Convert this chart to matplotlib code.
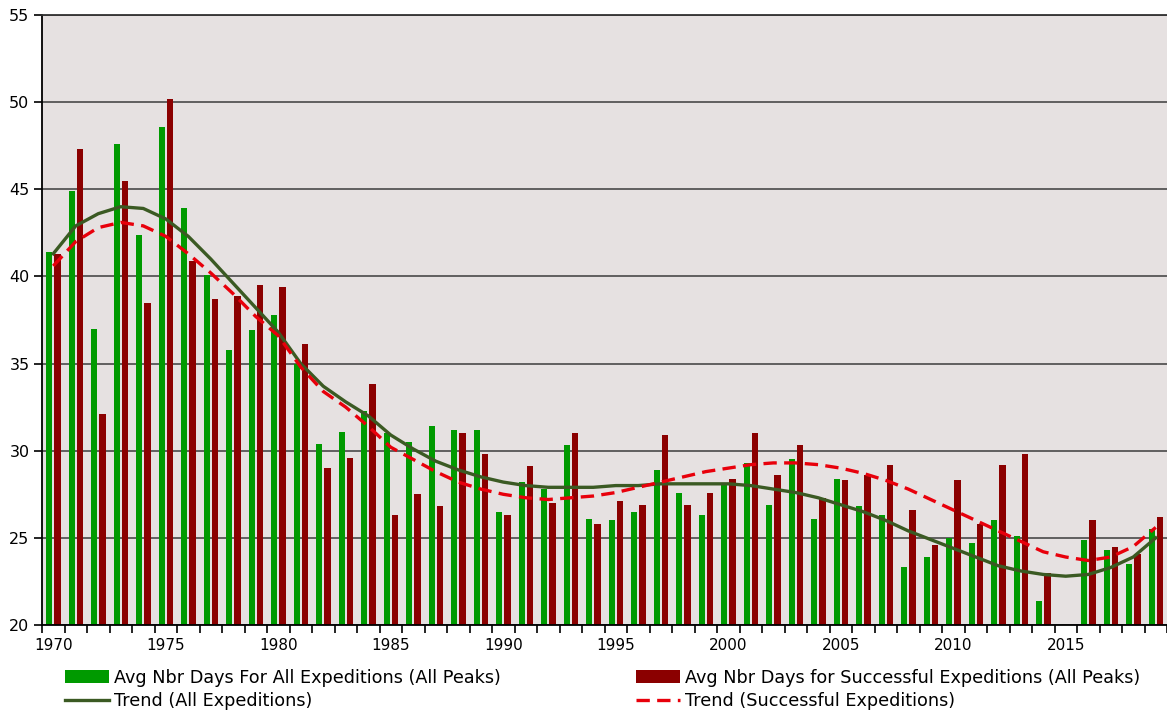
import numpy as np
import matplotlib
matplotlib.use("Agg")
import matplotlib.pyplot as plt
from matplotlib.ticker import MultipleLocator, FixedLocator

years = list(range(1970, 2020))

# avg number of days, all expeditions (2015 has no data)
all_days = [41.4, 44.9, 37.0, 47.6, 42.4, 48.6, 43.9, 40.1, 35.8, 36.9,
            37.8, 35.0, 30.4, 31.1, 32.3, 31.0, 30.5, 31.4, 31.2, 31.2,
            26.5, 28.2, 27.8, 30.3, 26.1, 26.0, 26.5, 28.9, 27.6, 26.3,
            28.1, 29.3, 26.9, 29.5, 26.1, 28.4, 26.8, 26.3, 23.3, 23.9,
            25.0, 24.7, 26.0, 25.1, 21.4, np.nan, 24.9, 24.3, 23.5, 25.5]

# avg number of days, successful expeditions
succ_days = [41.3, 47.3, 32.1, 45.5, 38.5, 50.2, 40.9, 38.7, 38.9, 39.5,
             39.4, 36.1, 29.0, 29.6, 33.8, 26.3, 27.5, 26.8, 31.0, 29.8,
             26.3, 29.1, 27.0, 31.0, 25.8, 27.1, 26.9, 30.9, 26.9, 27.6,
             28.4, 31.0, 28.6, 30.3, 27.3, 28.3, 28.6, 29.2, 26.6, 24.6,
             28.3, 25.8, 29.2, 29.8, 23.0, np.nan, 26.0, 24.5, 24.1, 26.2]

# trend lines
trend_all = [41.3, 42.9, 43.6, 44.0, 43.9, 43.3, 42.3, 41.0, 39.6, 38.2,
             36.8, 35.0, 33.7, 32.8, 32.0, 30.9, 30.1, 29.4, 28.9, 28.5,
             28.2, 28.0, 27.9, 27.9, 27.9, 28.0, 28.0, 28.1, 28.1, 28.1,
             28.1, 28.0, 27.8, 27.6, 27.3, 26.9, 26.5, 26.0, 25.4, 24.9,
             24.4, 23.9, 23.4, 23.1, 22.9, 22.8, 22.9, 23.3, 23.9, 25.0]

trend_succ = [40.6, 42.0, 42.8, 43.1, 42.9, 42.3, 41.3, 40.2, 39.0, 37.7,
              36.6, 34.8, 33.4, 32.5, 31.4, 30.2, 29.5, 28.8, 28.2, 27.8,
              27.5, 27.3, 27.2, 27.3, 27.4, 27.6, 27.9, 28.2, 28.5, 28.8,
              29.0, 29.2, 29.3, 29.3, 29.2, 29.0, 28.7, 28.3, 27.8, 27.2,
              26.6, 26.0, 25.4, 24.8, 24.2, 23.9, 23.7, 23.9, 24.5, 25.6]

labels = ["Avg Nbr Days For All Expeditions (All Peaks)",
          "Avg Nbr Days for Successful Expeditions (All Peaks)",
          "Trend (All Expeditions)",
          "Trend (Successful Expeditions)"]

green = "#009a00"
darkred = "#8b0000"

plt.rcParams['font.family'] = ['DejaVu Sans']

fig = plt.figure(figsize=(11.67, 7.13), dpi=100)
ax = fig.add_axes([42 / 1167, 88 / 713, 1 - 42 / 1167, 610 / 713])
ax.set_facecolor("#e6e1e1")

x = np.array(years, dtype=float)
b1 = ax.bar(x - 0.18, all_days, width=0.27, color=green, zorder=2)
b2 = ax.bar(x + 0.19, succ_days, width=0.27, color=darkred, zorder=2)
l1, = ax.plot(x, trend_all, color="#3b5a23", lw=2.4, zorder=3,
              solid_joinstyle="round")
l2, = ax.plot(x, trend_succ, color="#e8000b", lw=2.4, ls=(0, (4, 2.2)),
              zorder=3)

ax.set_xlim(1969.5, 2019.5)
ax.set_ylim(20, 55)
ax.yaxis.set_major_locator(MultipleLocator(5))
ax.grid(axis="y", color="#555555", lw=1.3, zorder=1)
ax.set_axisbelow(True)

ax.spines["right"].set_visible(False)
ax.spines["top"].set_color("#333333")
ax.spines["top"].set_linewidth(1.3)
ax.spines["left"].set_linewidth(1.3)
ax.spines["bottom"].set_linewidth(1.3)

# year labels at category centres, tick marks at boundaries
ax.set_xticks(np.arange(1970, 2020, 5))
ax.tick_params(axis="x", which="major", length=0, pad=9, labelsize=11)
ax.xaxis.set_minor_locator(FixedLocator(np.arange(1969.5, 2020, 1)))
ax.tick_params(axis="x", which="minor", length=6, width=1.2, direction="out")
ax.tick_params(axis="y", length=6, width=1.2, labelsize=11.5, pad=3)

leg_kw = dict(loc="upper left", frameon=False, fontsize=12.7,
              handlelength=2.5, handleheight=0.75, handletextpad=0.3,
              labelspacing=0.3, borderaxespad=0, borderpad=0)
fig.legend([b1, l1], [labels[0], labels[2]],
           bbox_to_anchor=(65 / 1167, 1 - 669 / 713), **leg_kw)
fig.legend([b2, l2], [labels[1], labels[3]],
           bbox_to_anchor=(636 / 1167, 1 - 669 / 713), **leg_kw)

fig.savefig("out.png", dpi=100)
